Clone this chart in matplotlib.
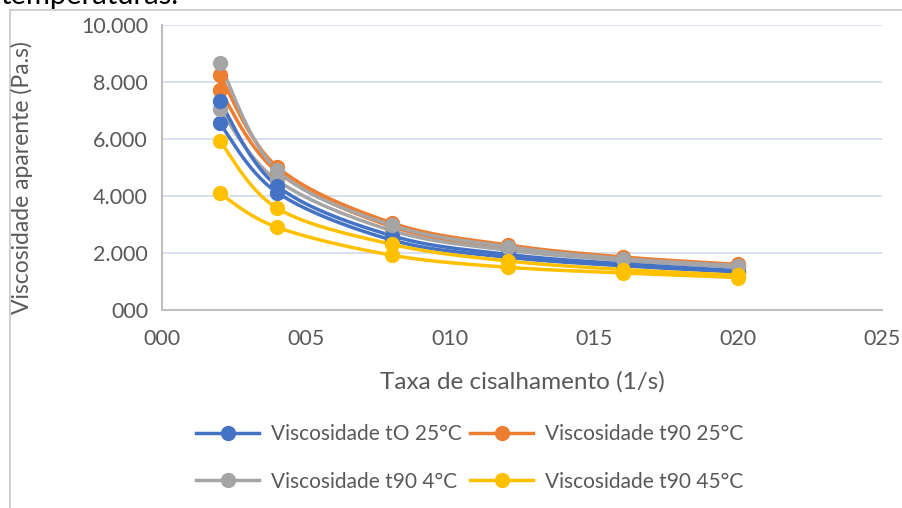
import numpy as np
import matplotlib
matplotlib.use("Agg")
import matplotlib.pyplot as plt
from matplotlib.lines import Line2D

plt.rcParams['font.family'] = ['Lato', 'DejaVu Sans']

shear_rate = [2, 4, 8, 12, 16, 20]

# legend series
visc_t0_25 = [7.34, 4.35, 2.60, 1.95, 1.62, 1.38]
visc_t90_25 = [8.25, 5.02, 3.05, 2.28, 1.86, 1.60]
visc_t90_4 = [8.66, 4.90, 2.97, 2.22, 1.80, 1.56]
visc_t90_45 = [5.94, 3.57, 2.30, 1.72, 1.42, 1.22]
# replicate series (not in legend)
visc_t0_25_b = [6.55, 4.12, 2.45, 1.85, 1.55, 1.33]
visc_t90_25_b = [7.72, 4.85, 2.92, 2.18, 1.80, 1.55]
visc_t90_4_b = [7.05, 4.55, 2.78, 2.10, 1.74, 1.50]
visc_t90_45_b = [4.09, 2.90, 1.92, 1.50, 1.30, 1.14]

labels = ["Viscosidade tO 25°C", "Viscosidade t90 25°C",
          "Viscosidade t90 4°C", "Viscosidade t90 45°C"]

x_ticks = [0, 5, 10, 15, 20, 25]
x_ticklabels = ["000", "005", "010", "015", "020", "025"]
y_ticks = [0, 2, 4, 6, 8, 10]
y_ticklabels = ["000", "2.000", "4.000", "6.000", "8.000", "10.000"]

colors = ["#4472C4", "#ED7D31", "#A5A5A5", "#FFC000"]


def smooth(xs, ys, n=30):
    xs = np.asarray(xs, float)
    ys = np.asarray(ys, float)
    px, py = [], []
    m = len(xs)
    for i in range(m - 1):
        i0 = max(i - 1, 0)
        i3 = min(i + 2, m - 1)
        p0 = np.array([xs[i0], ys[i0]])
        p1 = np.array([xs[i], ys[i]])
        p2 = np.array([xs[i + 1], ys[i + 1]])
        p3 = np.array([xs[i3], ys[i3]])
        c1 = p1 + (p2 - p0) / 6.0
        c2 = p2 - (p3 - p1) / 6.0
        t = np.linspace(0, 1, n)[:, None]
        pts = ((1 - t) ** 3) * p1 + 3 * ((1 - t) ** 2) * t * c1 + 3 * (1 - t) * t ** 2 * c2 + t ** 3 * p2
        px.extend(pts[:, 0])
        py.extend(pts[:, 1])
    return px, py


fig = plt.figure(figsize=(9.02, 5.08), dpi=100)
ax = fig.add_axes([162 / 902, 1 - 310 / 508, (882 - 162) / 902, (310 - 25) / 508])

series = [
    (visc_t0_25_b, 0, None), (visc_t90_25_b, 1, None),
    (visc_t90_4_b, 2, None), (visc_t90_45_b, 3, None),
    (visc_t0_25, 0, labels[0]), (visc_t90_25, 1, labels[1]),
    (visc_t90_4, 2, labels[2]), (visc_t90_45, 3, labels[3]),
]
handles = [None] * 4
for vals, ci, lab in series:
    sx, sy = smooth(shear_rate, vals)
    ax.plot(sx, sy, color=colors[ci], lw=2.5, solid_capstyle='round', zorder=3)
    ax.plot(shear_rate, vals, 'o', color=colors[ci], ms=10, zorder=4)
    if lab is not None:
        handles[ci] = Line2D([], [], color=colors[ci], lw=2.5, marker='o', ms=10)

ax.set_xlim(0, 25)
ax.set_ylim(0, 10)
ax.set_xticks(x_ticks)
ax.set_xticklabels(x_ticklabels)
ax.set_yticks(y_ticks)
ax.set_yticklabels(y_ticklabels)
ax.tick_params(length=0, labelsize=15.5, labelcolor='#595959')
ax.tick_params(axis='x', pad=14)
ax.tick_params(axis='y', pad=10)
ax.grid(axis='y', color='#D0D9EF', lw=1.2)
ax.set_axisbelow(True)
for s in ['top', 'right']:
    ax.spines[s].set_visible(False)
for s in ['left', 'bottom']:
    ax.spines[s].set_color('#BFBFBF')
    ax.spines[s].set_linewidth(1.5)

fig.text(522 / 902, 1 - 382 / 508, "Taxa de cisalhamento (1/s)", ha='center', va='center',
         fontsize=17.5, color='#595959')
fig.text(22 / 902, 1 - 178 / 508, "Viscosidade aparente (Pa.s)", ha='center', va='center',
         rotation=90, fontsize=16.5, color='#595959')

order = [0, 2, 1, 3]
leg = fig.legend([handles[i] for i in order], [labels[i] for i in order], loc='center',
                 bbox_to_anchor=(470 / 902, 1 - 458 / 508),
                 ncol=2, frameon=False, fontsize=15, handlelength=3.0,
                 columnspacing=0.4, labelspacing=1.3, handletextpad=0.6)
for t in leg.get_texts():
    t.set_color('#595959')

# chart area border
fig.add_artist(Line2D([10 / 902, 10 / 902], [0, 1 - 10 / 508], color='#C8C8C8', lw=1.2))
fig.add_artist(Line2D([10 / 902, 1], [1 - 10 / 508, 1 - 10 / 508], color='#C8C8C8', lw=1.2))

# clipped title
fig.text(0 / 902, 1 - 4 / 508, "temperaturas.", ha='left', va='baseline', fontsize=21, color='black')

fig.savefig("out.png", dpi=100)
